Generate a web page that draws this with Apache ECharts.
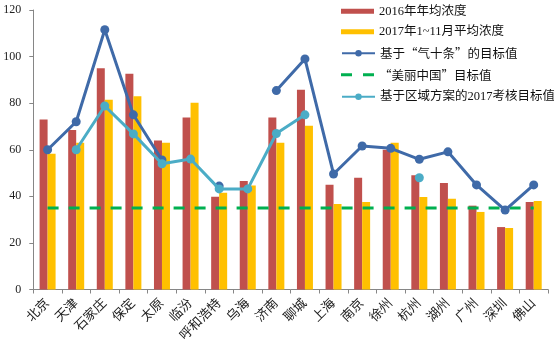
<!DOCTYPE html>
<html><head><meta charset="utf-8">
<script src="https://cdn.jsdelivr.net/npm/echarts@6/dist/echarts.min.js"></script>
<style>html,body{margin:0;padding:0;background:#fff}#c{width:554px;height:351px}</style>
</head><body><div id="c"></div>
<script>
var cities = ['北京','天津','石家庄','保定','太原','临汾','呼和浩特','乌海','济南','聊城','上海','南京','徐州','杭州','湖州','广州','深圳','佛山'];
var avg2016 = [73, 68.5, 95, 92.6, 64, 73.8, 39.8, 46.6, 73.8, 85.8, 45, 48, 60, 49, 45.7, 36, 26.8, 37.6];
var avg2017 = [58.3, 63, 81.5, 83, 63, 80.2, 41.5, 44.6, 63, 70.3, 36.7, 37.6, 63, 39.7, 39, 33.3, 26.4, 38];
var target10 = [60, 72, 111.5, 75, 55.6, null, 44.4, null, 85.4, 99, 49.6, 61.6, 60.6, 55.9, 59.1, 44.9, 34.1, 44.9];
var targetBeauty = [35, 35, 35, 35, 35, 35, 35, 35, 35, 35, 35, 35, 35, 35, 35, 35, 35, 35];
var targetRegion = [null, 60, 78.8, 66.8, 54, 56, 43.2, 43.2, 67, 75, null, null, null, 48, null, null, null, null];
var yTicks = [0, 20, 40, 60, 80, 100, 120];

var names = ['2016年年均浓度','2017年1~11月平均浓度','基于“气十条”的目标值','“美丽中国”目标值','基于区域方案的2017考核目标值'];
var FONT = '"Liberation Serif", "Noto Sans CJK SC", serif';
var CJKFONT = '"Noto Sans CJK SC", "Liberation Serif", sans-serif';
function nz(a){return a.map(function(v){return v==null?'-':v;});}

function lg(name, top, ih, icon, font){
  var o = {data:[name], orient:'vertical', left:341, top:top, padding:0,
    itemWidth:33, itemHeight:ih, itemGap:0,
    textStyle:{fontFamily:font || FONT, fontSize:12.5, color:'#111'}};
  if (icon) o.icon = icon;
  return o;
}

var chart = echarts.init(document.getElementById('c'));
chart.setOption({
  animation:false,
  textStyle:{fontFamily:FONT},
  grid:{left:33.3, right:6, top:10, bottom:61.5, containLabel:false},
  legend:[
    lg(names[0], 5, 5, 'rect'),
    lg(names[1], 25.5, 5, 'rect'),
    lg(names[2], 47, 8, null, CJKFONT),
    lg(names[3], 68.5, 3.5, 'path://M0,0H11V3H0Z M22,0H33V3H22Z', CJKFONT),
    lg(names[4], 90.5, 8)
  ],
  xAxis:{
    type:'category', data:cities, boundaryGap:true,
    axisLine:{lineStyle:{color:'#868686', width:1}},
    axisTick:{show:true, alignWithLabel:false, length:4, lineStyle:{color:'#868686'}},
    axisLabel:{rotate:45, fontSize:13, color:'#222', margin:12, interval:0, fontFamily:FONT}
  },
  yAxis:{
    type:'value', min:yTicks[0], max:yTicks[yTicks.length-1], interval:20,
    axisLine:{show:true, lineStyle:{color:'#868686', width:1}},
    axisTick:{show:true, length:4, lineStyle:{color:'#868686'}},
    splitLine:{show:false},
    axisLabel:{fontSize:12, color:'#222', margin:12, fontFamily:FONT}
  },
  series:[
    {name:names[0], type:'bar', data:avg2016, barWidth:8, barGap:'0%', itemStyle:{color:'#C0504D'}},
    {name:names[1], type:'bar', data:avg2017, barWidth:8, barGap:'0%', itemStyle:{color:'#FFC000'}},
    {name:names[3], type:'line', data:targetBeauty, symbol:'none', z:3,
      lineStyle:{color:'#00B050', width:3, type:[11,10]}, itemStyle:{color:'#00B050'}},
    {name:names[2], type:'line', data:nz(target10), symbol:'circle', symbolSize:9, showSymbol:true, showAllSymbol:true, z:4,
      lineStyle:{color:'#3F6AA8', width:3}, itemStyle:{color:'#3F6AA8'}},
    {name:names[4], type:'line', data:nz(targetRegion), symbol:'circle', symbolSize:9, showSymbol:true, showAllSymbol:true, z:5,
      lineStyle:{color:'#4BACC6', width:3}, itemStyle:{color:'#4BACC6'}}
  ]
});
</script></body></html>
